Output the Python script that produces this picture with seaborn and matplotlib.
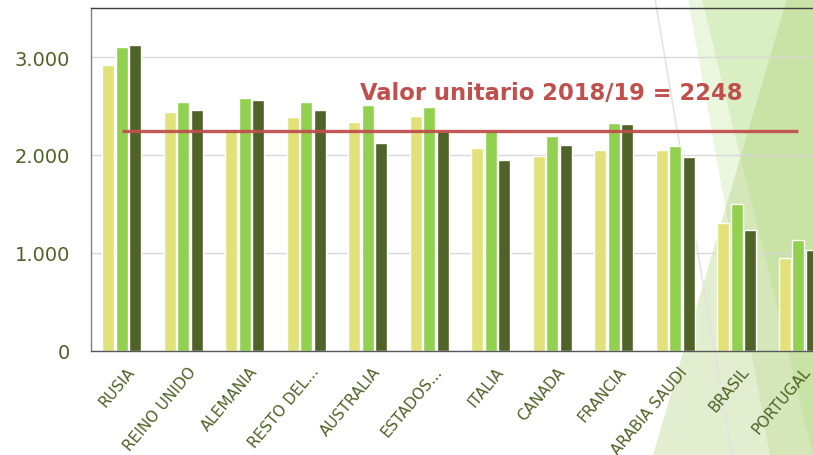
import pandas as pd
import matplotlib.pyplot as plt
import matplotlib.transforms as mtransforms
from matplotlib.patches import Polygon
from matplotlib.lines import Line2D
import seaborn as sns

# --- Data ---
countries = ['RUSIA', 'REINO UNIDO', 'ALEMANIA', 'RESTO DEL...', 'AUSTRALIA',
             'ESTADOS...', 'ITALIA', 'CANADA', 'FRANCIA', 'ARABIA SAUDI',
             'BRASIL', 'PORTUGAL']
seasons = ['2016/17', '2017/18', '2018/19']
val_2016 = [2918, 2439, 2268, 2388, 2340, 2401, 2074, 1993, 2051, 2051, 1309, 949]
val_2017 = [3098, 2544, 2585, 2537, 2513, 2493, 2240, 2197, 2327, 2092, 1496, 1133]
val_2018 = [3122, 2455, 2564, 2462, 2126, 2245, 1945, 2098, 2316, 1983, 1231, 1034]
unit_value = 2248
y_ticks = [0, 1000, 2000, 3000]
y_tick_labels = ['0', '1.000', '2.000', '3.000']

df = pd.DataFrame({
    'Pais': countries * 3,
    'Temporada': [s for s in seasons for _ in countries],
    'Valor': val_2016 + val_2017 + val_2018,
})

# --- Styling ---
olive = '#4f6228'
red = '#c0504d'
palette = ['#e1e37a', '#92d050', '#4f6228']

sns.set_style('white')
plt.rcParams['font.family'] = ['DejaVu Sans']

W, H = 813, 456
fig = plt.figure(figsize=(W / 100, H / 100), dpi=100)
fig.patch.set_facecolor('white')


def px(x, y):
    return (x / W, 1 - y / H)


# decorative slide triangles in the background
shapes = [
    ([(688, 0), (813, 0), (813, 456), (770, 456)], '#92d050', 0.19),
    ([(702, 0), (813, 0), (813, 456)], '#92d050', 0.19),
    ([(787, 0), (813, 0), (813, 456), (653, 456)], '#a9c96b', 0.32),
]
for pts, col, a in shapes:
    fig.patches.append(Polygon([px(*p) for p in pts], closed=True,
                               transform=fig.transFigure, facecolor=col,
                               alpha=a, edgecolor='none', zorder=-2))
fig.lines.append(Line2D([655 / W, 732 / W], [1, 0], transform=fig.transFigure,
                        color='#e4e4e4', linewidth=1.2, zorder=-1))

ax = fig.add_axes([91 / W, 1 - 352 / H, (829 - 91) / W, (352 - 9) / H])
ax.set_facecolor('none')
ax.set_zorder(1)

sns.barplot(data=df, x='Pais', y='Valor', hue='Temporada', hue_order=seasons,
            palette=palette, width=0.66, gap=0.12, saturation=1,
            legend=False, ax=ax, zorder=2)

ax.hlines(unit_value, 0, len(countries) - 1, color=red, linewidth=2.4,
          alpha=0.95, zorder=4)
ax.text(3.87, 2574, 'Valor unitario 2018/19 = 2248', color=red,
        fontsize=16.3, fontweight='bold', ha='left', va='baseline', zorder=5)

ax.set_xlim(-0.5, len(countries) - 0.5)
ax.set_ylim(0, 3500)
ax.set_yticks(y_ticks)
ax.set_yticklabels(y_tick_labels)
ax.yaxis.grid(True, color='#d9d9d9', linewidth=1)
ax.set_axisbelow(True)
ax.set_xlabel('')
ax.set_ylabel('')

ax.tick_params(axis='y', length=0, pad=15, labelsize=14, labelcolor=olive)
ax.tick_params(axis='x', length=0, pad=9, labelsize=11, labelcolor=olive)
offset = mtransforms.ScaledTranslation(4 / 100, 0, fig.dpi_scale_trans)
for lab in ax.get_xticklabels():
    lab.set_rotation(50)
    lab.set_ha('right')
    lab.set_va('top')
    lab.set_rotation_mode('anchor')
    lab.set_transform(lab.get_transform() + offset)

for side in ['top', 'left', 'bottom']:
    ax.spines[side].set_visible(True)
ax.spines['right'].set_visible(False)
ax.spines['top'].set_color('#404040')
ax.spines['left'].set_color('#808080')
ax.spines['bottom'].set_color('#595959')
for s in ax.spines.values():
    s.set_linewidth(1)

fig.savefig('out.png', dpi=100)
